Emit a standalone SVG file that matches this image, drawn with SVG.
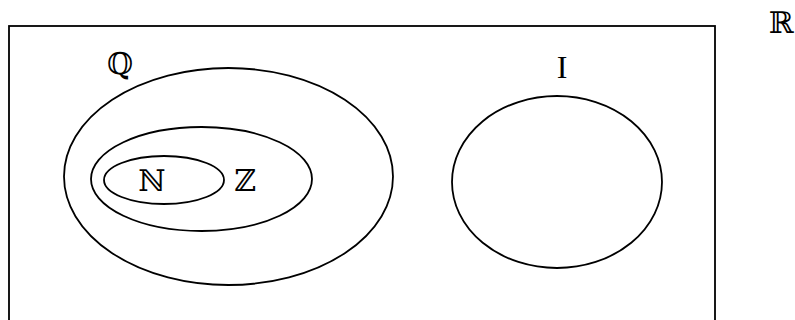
<svg xmlns="http://www.w3.org/2000/svg" width="795" height="320" viewBox="0 0 795 320">
<style>
.set{fill:none;stroke:#000;stroke-width:1.8}
.ds{font-family:"DejaVu Serif","Liberation Serif",serif;font-size:30px;fill:#000;text-anchor:middle}
.lbl{font-family:"Liberation Serif",serif;font-size:32px;fill:#000;text-anchor:middle}
</style>
<rect width="795" height="320" fill="#fff"/>
<g id="R">
<rect x="9" y="26" width="706" height="310" class="set" stroke-width="2"/>
<text x="781" y="33" class="ds" font-size="32">ℝ</text>
</g>
<g id="Q">
<ellipse cx="228.5" cy="176.5" rx="164.5" ry="108.5" class="set"/>
<text x="120" y="74" class="ds">ℚ</text>
</g>
<g id="Z">
<ellipse cx="201.5" cy="179" rx="110.5" ry="52" class="set"/>
<text x="245" y="191" class="ds">ℤ</text>
</g>
<g id="N">
<ellipse cx="164" cy="180" rx="60" ry="24" class="set"/>
<text x="152" y="191" class="ds">ℕ</text>
</g>
<g id="I">
<ellipse cx="557" cy="182" rx="105" ry="86" class="set"/>
<text x="562" y="78" class="lbl">I</text>
</g>
<g id="connectors"/>
</svg>
